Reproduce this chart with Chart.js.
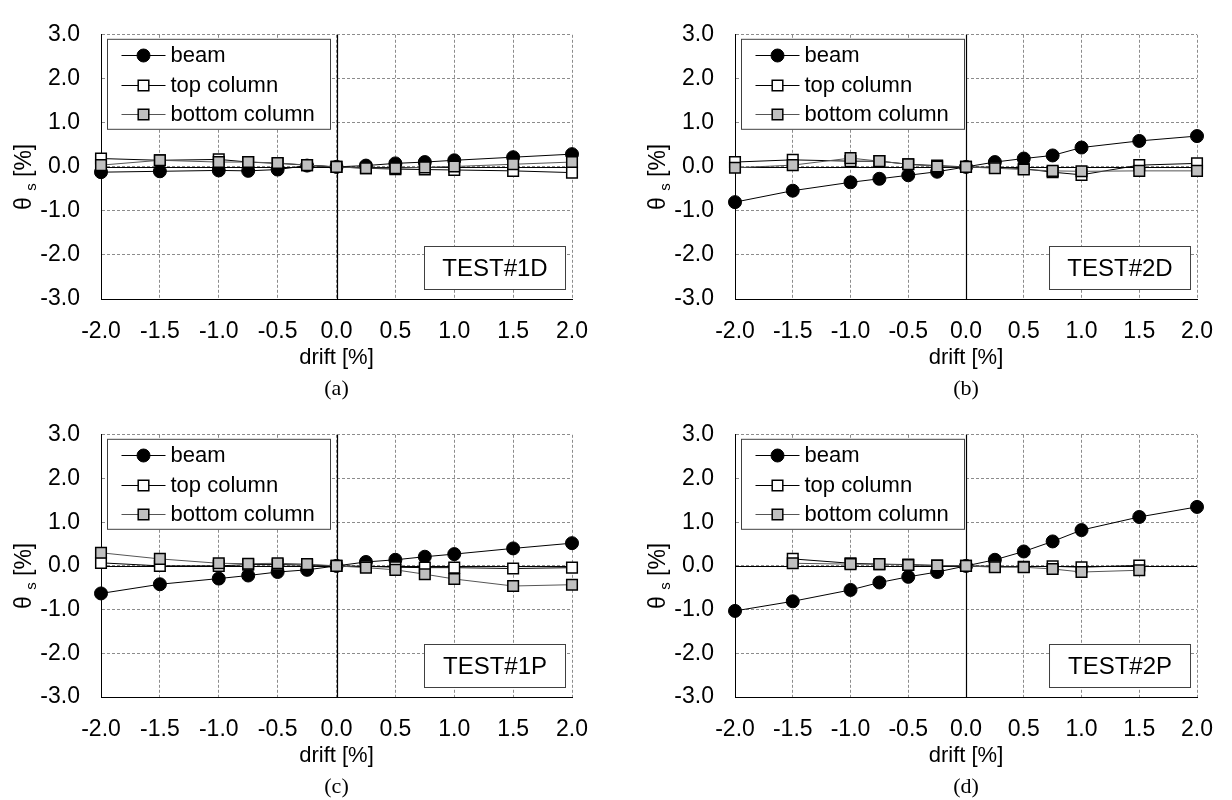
<!DOCTYPE html>
<html><head><meta charset="utf-8">
<script src="https://cdn.jsdelivr.net/npm/chart.js@4.4.1/dist/chart.umd.min.js"></script>
<style>
html,body{margin:0;padding:0;background:#fff;}
#wrap{position:relative;width:1232px;height:800px;overflow:hidden;background:#fff;}
#wrap canvas{position:absolute;}
</style></head><body>
<div id="wrap">
<canvas id="pa" width="616" height="400" style="left:0;top:0;width:616px;height:400px"></canvas>
<canvas id="pb" width="616" height="400" style="left:616px;top:0;width:616px;height:400px"></canvas>
<canvas id="pc" width="616" height="400" style="left:0;top:400px;width:616px;height:400px"></canvas>
<canvas id="pd" width="616" height="400" style="left:616px;top:400px;width:616px;height:400px"></canvas>
</div>
<script>
// ---- data ----
const drift = [-2.0, -1.5, -1.0, -0.75, -0.5, -0.25, 0, 0.25, 0.5, 0.75, 1.0, 1.5, 2.0];
const seriesNames = ['beam', 'top column', 'bottom column'];
const panelTags = ['TEST#1D', 'TEST#2D', 'TEST#1P', 'TEST#2P'];
const panelCaptions = ['(a)', '(b)', '(c)', '(d)'];
const xTickValues = [-2.0, -1.5, -1.0, -0.5, 0.0, 0.5, 1.0, 1.5, 2.0];
const yTickValues = [-3.0, -2.0, -1.0, 0.0, 1.0, 2.0, 3.0];

const beam1D = [-0.12, -0.10, -0.08, -0.09, -0.06, 0.03, 0, 0.03, 0.08, 0.11, 0.15, 0.22, 0.29];
const topCol1D = [0.19, 0.15, 0.17, 0.11, 0.08, 0.04, 0, -0.03, -0.05, -0.06, -0.07, -0.09, -0.13];
const botCol1D = [0.04, 0.15, 0.11, 0.11, 0.09, 0.04, 0, -0.03, -0.03, -0.01, 0.01, 0.06, 0.11];

const beam2D = [-0.80, -0.54, -0.35, -0.27, -0.19, -0.11, 0, 0.11, 0.19, 0.26, 0.44, 0.59, 0.70];
const topCol2D = [0.11, 0.16, 0.13, 0.13, 0.06, 0.03, 0, -0.01, -0.04, -0.12, -0.18, 0.04, 0.08];
const botCol2D = [-0.02, 0.04, 0.20, 0.13, 0.06, 0.01, 0, -0.03, -0.06, -0.09, -0.10, -0.09, -0.09];

const beam1P = [-0.63, -0.42, -0.29, -0.22, -0.14, -0.09, 0, 0.09, 0.14, 0.21, 0.27, 0.40, 0.52];
const topCol1P = [0.07, 0.00, 0.00, 0.03, 0.03, 0.02, 0, -0.01, -0.03, -0.04, -0.04, -0.06, -0.04];
const botCol1P = [0.30, 0.16, 0.06, 0.05, 0.06, 0.04, 0, -0.04, -0.09, -0.19, -0.30, -0.46, -0.43];

const beam2P = [-1.03, -0.81, -0.55, -0.38, -0.25, -0.14, 0, 0.14, 0.33, 0.56, 0.82, 1.12, 1.35];
const topCol2P = [null, 0.16, 0.06, 0.04, 0.03, 0.01, 0, -0.01, -0.02, -0.01, -0.03, 0.01, null];
const botCol2P = [null, 0.06, 0.04, 0.04, 0.02, 0.01, 0, -0.03, -0.03, -0.07, -0.14, -0.10, null];

// ---- styling / layout ----
const SANS = '"Liberation Sans", Arial, sans-serif';
const SERIF = '"Liberation Serif", "Times New Roman", serif';

const panels = [
  {id: 'pa', beam: beam1D, top: topCol1D, bot: botCol1D, tag: panelTags[0], cap: panelCaptions[0], L: 101, R: 572, T: 20, B: 299},
  {id: 'pb', beam: beam2D, top: topCol2D, bot: botCol2D, tag: panelTags[1], cap: panelCaptions[1], L: 119, R: 589, T: 20, B: 299},
  {id: 'pc', beam: beam1P, top: topCol1P, bot: botCol1P, tag: panelTags[2], cap: panelCaptions[2], L: 101, R: 572, T: 18, B: 297},
  {id: 'pd', beam: beam2P, top: topCol2P, bot: botCol2P, tag: panelTags[3], cap: panelCaptions[3], L: 119, R: 589, T: 18, B: 297}
];

function toPoints(arr) {
  return drift.map((d, i) => ({x: d, y: arr[i]}));
}

function markerOf(ds) {
  return {pointStyle: ds.pointStyle, radius: ds.pointRadius, borderWidth: ds.pointBorderWidth, rotation: 0};
}

const deco = {
  id: 'deco',
  beforeDatasetsDraw(chart) {
    const {ctx, chartArea: a, scales: {x, y}} = chart;
    const x0 = Math.round(x.getPixelForValue(0)) + 0.5;
    const y0 = Math.round(y.getPixelForValue(0)) + 0.5;
    ctx.save();
    ctx.strokeStyle = '#000';
    ctx.lineWidth = 1.2;
    ctx.setLineDash([]);
    ctx.beginPath();
    ctx.moveTo(x0, a.top); ctx.lineTo(x0, a.bottom);
    ctx.moveTo(a.left, y0); ctx.lineTo(a.right, y0);
    ctx.stroke();
    ctx.restore();
  },
  afterDatasetsDraw(chart, args, opts) {
    const {ctx, chartArea: a} = chart;
    ctx.save();
    // legend box
    const bx = a.left + 6.5, by = a.top + 4.5, bw = 223, bh = 90;
    ctx.fillStyle = '#fff';
    ctx.fillRect(bx, by, bw, bh);
    ctx.strokeStyle = '#404040';
    ctx.lineWidth = 1;
    ctx.strokeRect(bx, by, bw, bh);
    ctx.font = '22px ' + SANS;
    ctx.textBaseline = 'middle';
    ctx.textAlign = 'left';
    chart.data.datasets.forEach((ds, i) => {
      const ry = Math.round(by + 16 + i * 29.5);
      ctx.strokeStyle = ds.borderColor;
      ctx.lineWidth = 1;
      ctx.beginPath();
      ctx.moveTo(bx + 14, ry + 0.5); ctx.lineTo(bx + 58, ry + 0.5);
      ctx.stroke();
      ctx.fillStyle = ds.pointBackgroundColor;
      ctx.strokeStyle = ds.pointBorderColor;
      ctx.lineWidth = ds.pointBorderWidth;
      Chart.helpers.drawPoint(ctx, markerOf(ds), bx + 36, ry + 0.5);
      ctx.fillStyle = '#000';
      ctx.fillText(ds.label, bx + 63, ry + 1);
    });
    // tag box
    const tw = 141, th = 43;
    const tx = a.right - 6.5 - tw, ty = a.bottom - 9.5 - th;
    ctx.fillStyle = '#fff';
    ctx.fillRect(tx, ty, tw, th);
    ctx.strokeStyle = '#404040';
    ctx.lineWidth = 1;
    ctx.strokeRect(tx, ty, tw, th);
    ctx.fillStyle = '#000';
    ctx.font = '24px ' + SANS;
    ctx.textAlign = 'center';
    ctx.fillText(opts.tag, tx + tw / 2, ty + th / 2 + 1);
    ctx.restore();
  },
  afterDraw(chart, args, opts) {
    const {ctx, chartArea: a} = chart;
    ctx.save();
    ctx.fillStyle = '#000';
    // x title
    ctx.font = '22px ' + SANS;
    ctx.textAlign = 'center';
    ctx.textBaseline = 'middle';
    const cx = (a.left + a.right) / 2;
    ctx.fillText('drift [%]', cx, a.bottom + 59);
    // caption
    ctx.font = '22px ' + SERIF;
    ctx.fillText(opts.cap, cx, a.bottom + 90);
    // y title with subscript
    ctx.translate(a.left - 78, (a.top + a.bottom) / 2 + 10);
    ctx.rotate(-Math.PI / 2);
    ctx.textAlign = 'left';
    ctx.textBaseline = 'alphabetic';
    const f1 = '23px ' + SANS, f2 = '15px ' + SANS;
    ctx.font = f1; const w1 = ctx.measureText('\u03B8 ').width;
    ctx.font = f2; const w2 = ctx.measureText('s').width;
    ctx.font = f1; const w3 = ctx.measureText(' [%]').width;
    let sx = -(w1 + w2 + w3) / 2;
    const base = 8;
    ctx.font = f1; ctx.fillText('\u03B8 ', sx, base); sx += w1;
    ctx.font = f2; ctx.fillText('s', sx, base + 5); sx += w2;
    ctx.font = f1; ctx.fillText(' [%]', sx, base);
    ctx.restore();
  }
};

panels.forEach(p => {
  const W = 616, H = 400;
  const datasets = [
    {label: seriesNames[0], data: toPoints(p.beam), order: 3,
     borderColor: '#000', borderWidth: 1, pointStyle: 'circle', pointRadius: 6.5,
     pointBackgroundColor: '#000', pointBorderColor: '#000', pointBorderWidth: 1},
    {label: seriesNames[1], data: toPoints(p.top), order: 2,
     borderColor: '#000', borderWidth: 1, pointStyle: 'rect', pointRadius: 7.5,
     pointBackgroundColor: '#fff', pointBorderColor: '#000', pointBorderWidth: 1.5},
    {label: seriesNames[2], data: toPoints(p.bot), order: 1,
     borderColor: '#555', borderWidth: 1, pointStyle: 'rect', pointRadius: 7.5,
     pointBackgroundColor: '#c0c0c0', pointBorderColor: '#000', pointBorderWidth: 1.5}
  ];
  datasets.forEach(d => { d.tension = 0; d.clip = false; d.fill = false; d.spanGaps = false; d.pointHoverRadius = d.pointRadius; });
  new Chart(document.getElementById(p.id), {
    type: 'line',
    data: {datasets},
    plugins: [deco],
    options: {
      responsive: false,
      animation: false,
      events: [],
      layout: {padding: {left: 0, top: p.T, right: W - p.R, bottom: 0}},
      plugins: {
        legend: {display: false},
        tooltip: {enabled: false},
        deco: {tag: p.tag, cap: p.cap}
      },
      scales: {
        x: {
          type: 'linear', min: -2, max: 2,
          afterFit(s) { s.height = H - p.B; },
          afterBuildTicks(s) { s.ticks = xTickValues.map(v => ({value: v})); },
          ticks: {autoSkip: false, maxRotation: 0, padding: 19, color: '#000',
                  font: {family: SANS, size: 23}, callback: v => Number(v).toFixed(1)},
          grid: {color: '#8c8c8c', lineWidth: 1, drawTicks: false},
          border: {display: true, color: '#000', width: 1, dash: [3, 2]}
        },
        y: {
          type: 'linear', min: -3, max: 3,
          afterFit(s) { s.width = p.L; },
          afterBuildTicks(s) { s.ticks = yTickValues.map(v => ({value: v})); },
          ticks: {padding: 21, color: '#000',
                  font: {family: SANS, size: 23}, callback: v => Number(v).toFixed(1)},
          grid: {color: '#8c8c8c', lineWidth: 1, drawTicks: false},
          border: {display: true, color: '#000', width: 1, dash: [3, 2]}
        }
      }
    }
  });
});
</script>
</body></html>
